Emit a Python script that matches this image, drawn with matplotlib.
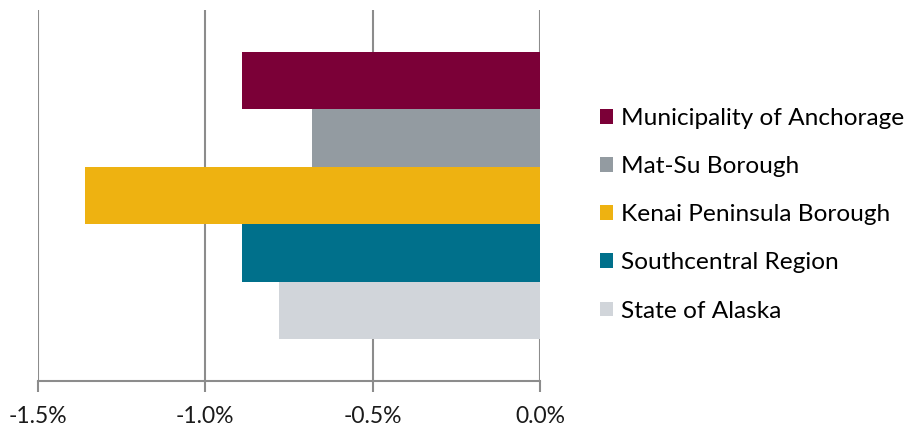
import matplotlib
matplotlib.use("Agg")
import matplotlib.pyplot as plt
from matplotlib.patches import Patch
import numpy as np

series = ["Municipality of Anchorage", "Mat-Su Borough", "Kenai Peninsula Borough",
          "Southcentral Region", "State of Alaska"]
values = [-0.89, -0.68, -1.36, -0.89, -0.78]
colors = ["#7B0037", "#939BA1", "#EEB211", "#00708B", "#D1D5DA"]
xticks = [-1.5, -1.0, -0.5, 0.0]
xticklabels = ["-1.5%", "-1.0%", "-0.5%", "0.0%"]

plt.rcParams['font.family'] = ['Lato', 'DejaVu Sans']

fig = plt.figure(figsize=(9.06, 4.36), dpi=100)
ax = fig.add_axes([38/906, 55/436, 502/906, 371/436])

pos = np.arange(len(series))
ax.barh(pos, values, height=1.0, color=colors, zorder=3)
ax.set_ylim(len(series) - 0.5 + 0.73, -0.5 - 0.73)
ax.set_xlim(-1.5, 0.0)
ax.set_xticks(xticks)
ax.set_xticklabels(xticklabels, fontsize=16.5, color="#1a1a1a")
ax.set_yticks([])
ax.grid(axis='x', color="#8c8c8c", linewidth=1.5, zorder=0)
for s in ["top", "right", "left"]:
    ax.spines[s].set_visible(False)
ax.spines["bottom"].set_color("#8c8c8c")
ax.spines["bottom"].set_linewidth(1.5)
ax.tick_params(axis='x', direction='out', length=8, width=1.5, color="#8c8c8c", pad=10)

handles = [Patch(facecolor=c, edgecolor='none') for c in colors]
fig.legend(handles, series, loc='upper left', bbox_to_anchor=(600/906, 1 - 108/436),
           frameon=False, fontsize=17.6, handlelength=0.55, handleheight=0.55,
           handletextpad=0.3, labelspacing=1.11, borderaxespad=0, borderpad=0)

fig.savefig("out.png", dpi=100)
